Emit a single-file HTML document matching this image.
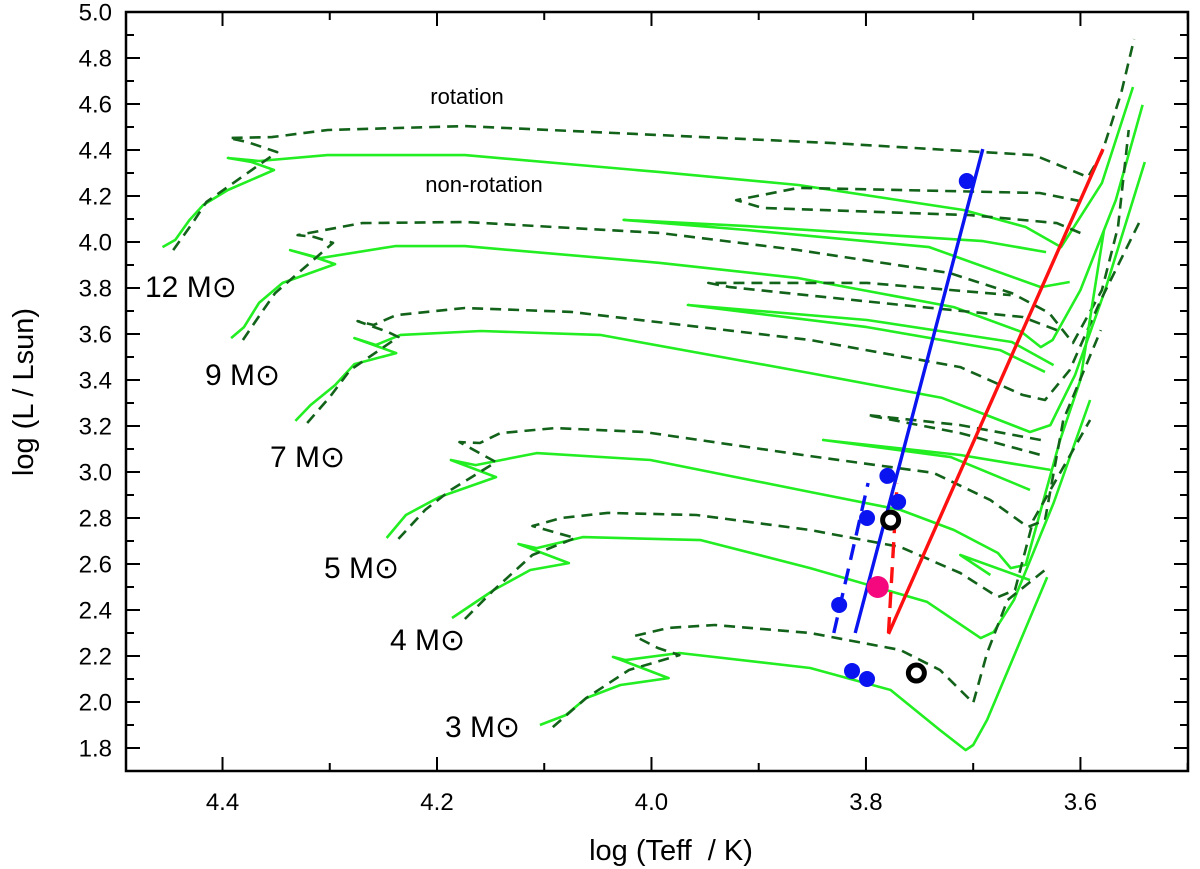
<!DOCTYPE html>
<html><head><meta charset="utf-8"><style>
html,body{margin:0;padding:0;background:#fff;}
svg{display:block;font-family:"Liberation Sans",Arial,sans-serif;}
</style></head><body>
<svg id="chart" width="1200" height="869" viewBox="0 0 1200 869" xmlns="http://www.w3.org/2000/svg">
<g id="tracks"></g>
<g id="marks"></g>
<g id="axes"></g>
<text x="467" y="104" font-size="22" text-anchor="middle">rotation</text>
<text x="484" y="192" font-size="22" text-anchor="middle">non-rotation</text>
<text x="145" y="297" font-size="30">12 M<tspan font-family="DejaVu Sans">⊙</tspan></text>
<text x="205" y="385" font-size="30">9 M<tspan font-family="DejaVu Sans">⊙</tspan></text>
<text x="270" y="467" font-size="30">7 M<tspan font-family="DejaVu Sans">⊙</tspan></text>
<text x="324" y="578" font-size="30">5 M<tspan font-family="DejaVu Sans">⊙</tspan></text>
<text x="390" y="650" font-size="30">4 M<tspan font-family="DejaVu Sans">⊙</tspan></text>
<text x="445" y="737" font-size="30">3 M<tspan font-family="DejaVu Sans">⊙</tspan></text>
<text x="671" y="860" font-size="29" text-anchor="middle" style="white-space:pre">log (Teff  / K)</text>
<text transform="translate(33,392) rotate(-90)" font-size="29" text-anchor="middle">log (L / Lsun)</text>
</svg>
<script>
// ---- data ----
const xTicks = [4.4, 4.2, 4.0, 3.8, 3.6];
const xTickLabels = ["4.4", "4.2", "4.0", "3.8", "3.6"];
const yTicks = [1.8, 2.0, 2.2, 2.4, 2.6, 2.8, 3.0, 3.2, 3.4, 3.6, 3.8, 4.0, 4.2, 4.4, 4.6, 4.8, 5.0];
const yTickLabels = ["1.8","2.0","2.2","2.4","2.6","2.8","3.0","3.2","3.4","3.6","3.8","4.0","4.2","4.4","4.6","4.8","5.0"];

const m12Solid = [[4.456,3.978],[4.444,4.009],[4.431,4.095],[4.418,4.161],[4.395,4.226],[4.352,4.313],[4.373,4.348],[4.395,4.365],[4.366,4.352],[4.302,4.378],[4.174,4.378],[3.992,4.304],[3.863,4.248],[3.709,4.139],[3.651,4.065],[3.618,3.978],[3.580,4.256],[3.551,4.674]];
const m12Rot = [[4.446,3.965],[4.428,4.082],[4.415,4.174],[4.349,4.391],[4.377,4.435],[4.394,4.452],[4.354,4.456],[4.302,4.487],[4.174,4.504],[3.992,4.465],[3.831,4.430],[3.691,4.391],[3.643,4.378],[3.593,4.282],[3.580,4.387],[3.562,4.648],[3.550,4.882]];
const m9Solid = [[4.392,3.582],[4.380,3.630],[4.366,3.735],[4.344,3.822],[4.295,3.904],[4.315,3.935],[4.337,3.965],[4.309,3.930],[4.239,3.982],[4.174,3.982],[3.992,3.909],[3.863,3.843],[3.718,3.717],[3.655,3.609],[3.637,3.543],[3.626,3.574],[3.600,3.791],[3.567,4.182],[3.542,4.596]];
const m9SolidLoop = [[3.632,3.956],[3.691,4.004],[3.911,4.069],[4.026,4.096],[3.911,4.052],[3.741,3.978],[3.637,3.804],[3.610,3.826]];
const m9Rot = [[4.381,3.574],[4.364,3.691],[4.351,3.778],[4.297,3.996],[4.315,4.022],[4.330,4.030],[4.270,4.082],[4.174,4.087],[3.992,4.039],[3.863,3.965],[3.722,3.865],[3.664,3.778],[3.629,3.691],[3.607,3.561],[3.580,3.791],[3.565,4.065],[3.555,4.487]];
const m9RotLoop = [[3.600,4.039],[3.622,4.082],[3.703,4.117],[3.896,4.148],[3.921,4.182],[3.863,4.235],[3.638,4.213],[3.596,4.174]];
const m7Solid = [[4.332,3.222],[4.318,3.291],[4.295,3.378],[4.277,3.469],[4.238,3.517],[4.277,3.582],[4.257,3.552],[4.234,3.596],[4.159,3.613],[4.048,3.596],[3.852,3.430],[3.729,3.322],[3.683,3.239],[3.647,3.174],[3.628,3.204],[3.605,3.422],[3.577,3.791],[3.540,4.348]];
const m7SolidLoop = [[3.625,3.465],[3.664,3.565],[3.799,3.661],[3.966,3.726],[3.799,3.630],[3.675,3.530],[3.633,3.435]];
const m7Rot = [[4.321,3.213],[4.300,3.326],[4.281,3.443],[4.236,3.587],[4.246,3.609],[4.274,3.656],[4.259,3.639],[4.238,3.682],[4.174,3.713],[4.075,3.696],[3.852,3.574],[3.712,3.456],[3.654,3.335],[3.633,3.313],[3.610,3.443],[3.581,3.748],[3.544,4.096]];
const m7RotLoop = [[3.622,3.617],[3.654,3.674],[3.767,3.726],[3.927,3.804],[3.947,3.822],[3.799,3.822],[3.665,3.769]];
const m5Solid = [[4.247,2.713],[4.229,2.813],[4.198,2.891],[4.145,2.978],[4.187,3.052],[4.164,3.030],[4.107,3.082],[4.001,3.052],[3.852,2.913],[3.768,2.835],[3.718,2.748],[3.677,2.648],[3.665,2.582],[3.651,2.596],[3.619,3.139],[3.600,3.400],[3.578,4.052]];
const m5SolidLoop = [[3.628,3.009],[3.712,3.074],[3.840,3.139],[3.721,3.065],[3.647,2.922]];
const m5Rot = [[4.236,2.709],[4.211,2.835],[4.187,2.922],[4.145,3.043],[4.179,3.130],[4.160,3.126],[4.141,3.169],[4.090,3.191],[4.007,3.174],[3.852,3.069],[3.737,2.996],[3.684,2.878],[3.649,2.761],[3.633,2.791],[3.616,3.226],[3.581,3.617]];
const m5RotLoop = [[3.637,3.139],[3.712,3.204],[3.799,3.248],[3.712,3.169],[3.637,3.074]];
const m4Solid = [[4.186,2.365],[4.147,2.487],[4.113,2.574],[4.077,2.604],[4.124,2.687],[4.107,2.669],[4.064,2.717],[3.954,2.704],[3.852,2.582],[3.743,2.435],[3.693,2.278],[3.681,2.304],[3.662,2.443],[3.625,2.865],[3.591,3.313]];
const m4SolidLoop = [[3.647,2.530],[3.712,2.639],[3.684,2.552]];
const m4Rot = [[4.174,2.361],[4.147,2.487],[4.111,2.639],[4.071,2.713],[4.088,2.735],[4.111,2.765],[4.084,2.800],[4.041,2.822],[3.958,2.813],[3.852,2.748],[3.768,2.674],[3.712,2.561],[3.677,2.456],[3.661,2.487],[3.644,2.791],[3.591,3.226]];
const m3Solid = [[4.104,1.900],[4.080,1.943],[4.061,2.017],[4.029,2.074],[3.984,2.104],[4.036,2.196],[4.024,2.182],[3.974,2.213],[3.852,2.148],[3.777,2.052],[3.731,1.878],[3.707,1.791],[3.700,1.813],[3.687,1.922],[3.631,2.543]];
const m3Rot = [[4.092,1.891],[4.061,2.017],[4.021,2.139],[3.974,2.204],[3.994,2.235],[4.016,2.287],[3.984,2.322],[3.941,2.335],[3.852,2.300],[3.768,2.226],[3.731,2.139],[3.700,1.996],[3.687,2.213],[3.668,2.443],[3.633,2.574]];

const blueEdgeSolid = [[3.810,2.300],[3.691,4.404]];
const blueEdgeDashed = [[3.830,2.300],[3.798,2.952]];
const redEdgeSolid = [[3.779,2.296],[3.579,4.404]];
const redEdgeDashed = [[3.779,2.300],[3.771,2.952]];

const blueStarsT = [3.706, 3.780, 3.770, 3.799, 3.825, 3.813, 3.799];
const blueStarsL = [4.265, 2.983, 2.870, 2.800, 2.422, 2.135, 2.100];
const pinkStarT = [3.789];
const pinkStarL = [2.500];
const openStarsT = [3.777, 3.753];
const openStarsL = [2.791, 2.126];

// ---- scales ----
const X0 = 126, X1 = 1188, Y0 = 12, Y1 = 771;
const TMAX = 4.49, TMIN = 3.4997, LMIN = 1.70, LMAX = 5.0;
function xs(t){ return X0 + (TMAX - t) / (TMAX - TMIN) * (X1 - X0); }
function ys(l){ return Y1 - (l - LMIN) / (LMAX - LMIN) * (Y1 - Y0); }
const NS = "http://www.w3.org/2000/svg";
function mk(tag, attrs, parent){
  const e = document.createElementNS(NS, tag);
  for (const k in attrs) e.setAttribute(k, attrs[k]);
  parent.appendChild(e);
  return e;
}
const tracks = document.getElementById('tracks');
const marks = document.getElementById('marks');
const axes = document.getElementById('axes');

const LIGHT = "#22ee22", DARK = "#12621a";
const seriesList = [
  ["track-12-nonrot", m12Solid, LIGHT, ""], ["track-12-rot", m12Rot, DARK, "11,7"],
  ["track-9-nonrot", m9Solid, LIGHT, ""], ["track-9-nonrot-loop", m9SolidLoop, LIGHT, ""],
  ["track-9-rot", m9Rot, DARK, "11,7"], ["track-9-rot-loop", m9RotLoop, DARK, "11,7"],
  ["track-7-nonrot", m7Solid, LIGHT, ""], ["track-7-nonrot-loop", m7SolidLoop, LIGHT, ""],
  ["track-7-rot", m7Rot, DARK, "11,7"], ["track-7-rot-loop", m7RotLoop, DARK, "11,7"],
  ["track-5-nonrot", m5Solid, LIGHT, ""], ["track-5-nonrot-loop", m5SolidLoop, LIGHT, ""],
  ["track-5-rot", m5Rot, DARK, "11,7"], ["track-5-rot-loop", m5RotLoop, DARK, "11,7"],
  ["track-4-nonrot", m4Solid, LIGHT, ""], ["track-4-nonrot-loop", m4SolidLoop, LIGHT, ""],
  ["track-4-rot", m4Rot, DARK, "11,7"],
  ["track-3-nonrot", m3Solid, LIGHT, ""], ["track-3-rot", m3Rot, DARK, "11,7"]
];
seriesList.forEach(s => {
  const p = mk('polyline', {points: s[1].map(d => xs(d[0]).toFixed(1)+','+ys(d[1]).toFixed(1)).join(' '),
    fill:'none', stroke:s[2], 'stroke-width':2.6, 'stroke-dasharray':s[3], 'stroke-linejoin':'round'}, tracks);
  
  
});
const edges = [
  ["blue-edge-solid", blueEdgeSolid, "#0a14f0", ""], ["blue-edge-dashed", blueEdgeDashed, "#0a14f0", "16,9"],
  ["red-edge-solid", redEdgeSolid, "#ff1010", ""], ["red-edge-dashed", redEdgeDashed, "#ff1010", "16,9"]
];
edges.forEach(s => {
  const p = mk('polyline', {points: s[1].map(d => xs(d[0]).toFixed(1)+','+ys(d[1]).toFixed(1)).join(' '),
    fill:'none', stroke:s[2], 'stroke-width':3.4, 'stroke-dasharray':s[3]}, marks);
  
  
});
blueStarsT.forEach((t, i) => {
  const c = mk('circle', {cx: xs(t), cy: ys(blueStarsL[i]), r: 8, fill: '#0a14f0'}, marks);
  
  
});
pinkStarT.forEach((t, i) => {
  const c = mk('circle', {cx: xs(t), cy: ys(pinkStarL[i]), r: 11, fill: '#f5087e'}, marks);
  
  
});
openStarsT.forEach((t, i) => {
  const c = mk('circle', {cx: xs(t), cy: ys(openStarsL[i]), r: 8, fill: '#fff', stroke: '#000', 'stroke-width': 5}, marks);
  
  
});

// ---- axes ----
const frame = mk('rect', {x:X0, y:Y0, width:X1-X0, height:Y1-Y0, fill:'none', stroke:'#000', 'stroke-width':2.5}, axes);


for (let t = 4.4; t > 3.49; t -= 0.1) {
  const major = Math.abs(Math.round(t*10) % 2) === 0;
  const len = major ? 14 : 8;
  const x = xs(t);
  const b = mk('line', {x1:x, y1:Y1, x2:x, y2:Y1-len, stroke:'#000', 'stroke-width':2}, axes);
  
  
  const tp = mk('line', {x1:x, y1:Y0, x2:x, y2:Y0+len, stroke:'#000', 'stroke-width':2}, axes);
  
  
}
xTicks.forEach((t, i) => {
  const tx = mk('text', {x: xs(t), y: 810, 'font-size': 24, 'text-anchor': 'middle'}, axes);
  tx.textContent = xTickLabels[i];
  
  
});
for (let l = 1.8; l < 5.01; l += 0.1) {
  const major = Math.abs(Math.round(l*10) % 2) === 0;
  const len = major ? 14 : 8;
  const y = ys(l);
  const a = mk('line', {x1:X0, y1:y, x2:X0+len, y2:y, stroke:'#000', 'stroke-width':2}, axes);
  
  
  const r = mk('line', {x1:X1, y1:y, x2:X1-len, y2:y, stroke:'#000', 'stroke-width':2}, axes);
  
  
}
yTicks.forEach((l, i) => {
  const tx = mk('text', {x: 112, y: ys(l) + 8.5, 'font-size': 24, 'text-anchor': 'end'}, axes);
  tx.textContent = yTickLabels[i];
  
  
});
</script>
</body></html>
